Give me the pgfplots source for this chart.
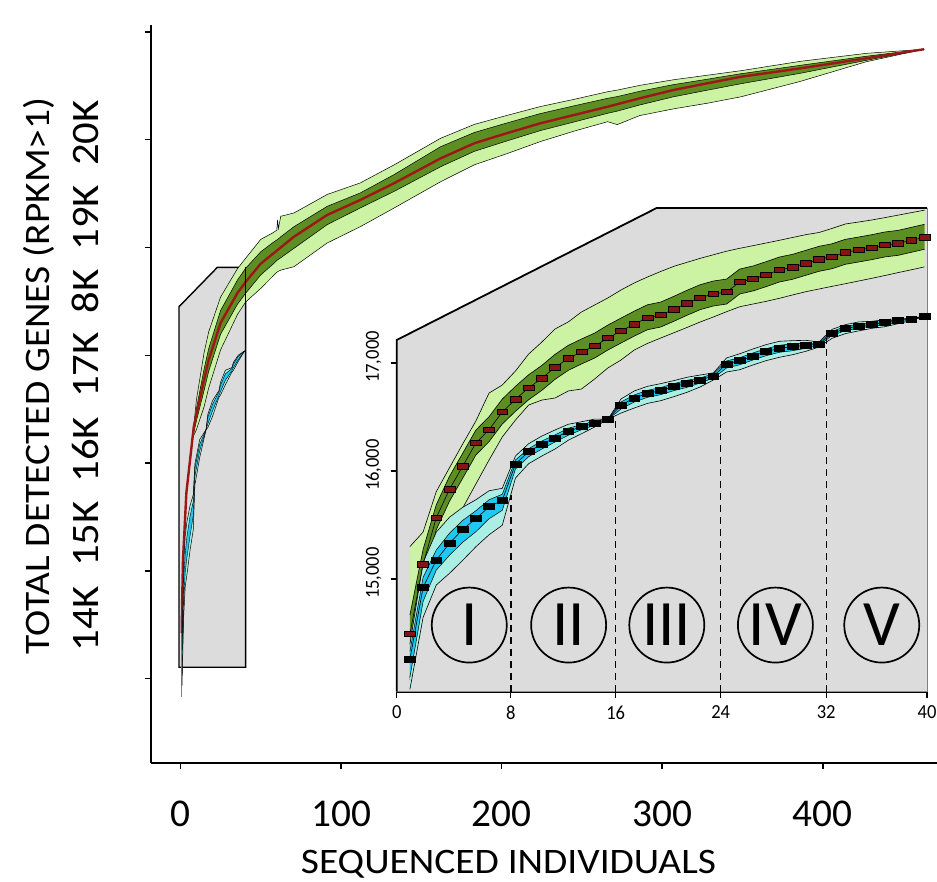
\documentclass[border=0pt]{standalone}
\usepackage{fontspec}
\setmainfont{Carlito}[FakeStretch=1.1]
\newfontfamily\tickfont{Carlito}[FakeStretch=1.0]
\newfontfamily\insetfont{Carlito}[FakeStretch=0.93]
\usepackage{pgfplots}
\pgfplotsset{compat=1.18}
\usepackage{pgfplotstable}
\usepgfplotslibrary{fillbetween}
\tikzset{fill between/on layer=main}

\definecolor{lgreen}{RGB}{204,242,163}
\definecolor{dgreen}{RGB}{92,142,36}
\definecolor{mred}{RGB}{158,22,22}
\definecolor{mkred}{RGB}{135,20,20}
\definecolor{dblue}{RGB}{30,200,240}
\definecolor{lcyan}{RGB}{170,238,228}
\definecolor{boxgray}{RGB}{220,220,220}

% ---------- main chart ----------
\pgfplotstableread{
x y
0.8 14424
1.1 14730
1.6 15101
3.7 15723
8.3 16335
14.7 16771
17.6 16957
25 17300
35.5 17578
40.6 17680
50 17850
70.7 18100
91.4 18302
112 18441
133 18596
162 18827
183 18967
203 19059
224 19152
245 19229
266 19306
286 19384
307 19461
328 19523
349 19584
386 19662
427 19755
463 19839
}\mainred

\pgfplotstableread{
x lhi llo dhi dlo
7.5 16229 16229 16229 16229
10 16590 16312 16507 16395
14.7 17021 16521 16871 16671
17.6 17217 16697 17062 16852
25 17540 17050 17415 17195
35.5 17803 17378 17698 17473
40.6 17900 17494 17807 17575
50 18075 17620 17960 17745
58 18140 17740 18050 17850
60 18160 17770 18070 17880
60.5 18255 17775 18075 17885
61 18175 17780 18080 17890
62.5 18290 17790 18100 17905
70.7 18320 17822 18193 17992
91.4 18492 18042 18382 18212
112 18599 18193 18506 18367
133 18766 18366 18676 18520
162 19013 18610 18935 18749
183 19142 18767 19067 18892
203 19224 18869 19154 18987
224 19307 18982 19242 19084
245 19374 19079 19314 19164
266 19445 19167 19384 19245
272 19460 19140 19400 19265
286 19504 19224 19449 19322
307 19556 19286 19511 19398
328 19598 19338 19561 19459
349 19640 19398 19612 19519
386 19727 19541 19690 19616
427 19801 19723 19774 19736
463 19839 19839 19839 19839
}\maingreen

\pgfplotstableread{
x med ohi olo ihi ilo
1 14201 14333 13937 14271 14042
2 14834 15054 14570 14923 14711
3 15075 15321 14855 15163 14988
4 15222 15451 14958 15310 15117
6 15438 15605 15192 15508 15324
8 15600 15706 15381 15644 15512
9 15919 15990 15796 15954 15876
12 16148 16219 16051 16175 16113
16 16312 16312 16312 16312 16312
17 16396 16448 16327 16422 16361
20 16519 16580 16433 16545 16485
24 16646 16672 16611 16663 16628
25 16699 16750 16632 16724 16665
28 16803 16862 16727 16828 16769
32 16867 16885 16842 16876 16855
33 16902 16935 16861 16919 16885
36 16976 17001 16943 16988 16959
40 17041 17041 17041 17041 17041
}\mainblue

% ---------- inset ----------
\pgfplotstableread{
x med lhi llo dhi dlo
1 14491 15300 14065 14667 14083
2 15136 15435 14685 15275 14997
3 15568 15810 15194 15688 15457
4 15831 16030 15491 15951 15720
5 16044 16250 15657 16164 15933
6 16259 16463 15880 16379 16148
7 16383 16722 16102 16503 16272
8 16546 16796 16315 16666 16435
9 16664 16926 16472 16784 16553
10 16771 17083 16611 16891 16660
11 16858 17194 16657 16978 16747
12 16960 17315 16676 17080 16849
13 17043 17380 16741 17163 16932
14 17102 17472 16759 17222 16991
15 17157 17537 16852 17277 17046
16 17231 17602 16954 17351 17120
17 17296 17676 17028 17416 17185
18 17360 17741 17120 17480 17249
19 17419 17796 17181 17539 17308
20 17444 17847 17231 17564 17333
21 17497 17895 17280 17617 17386
22 17553 17932 17329 17673 17442
23 17605 17969 17380 17725 17494
24 17639 18002 17426 17759 17528
25 17657 18035 17475 17777 17546
26 17750 18062 17521 17870 17639
27 17778 18086 17546 17898 17667
28 17818 18111 17571 17938 17707
29 17861 18136 17599 17981 17750
30 17886 18162 17630 18006 17775
31 17923 18188 17660 18043 17812
32 17960 18208 17685 18080 17849
33 17984 18246 17710 18104 17873
34 18025 18287 17734 18145 17914
35 18046 18305 17759 18166 17935
36 18068 18324 17784 18188 17957
37 18093 18346 17810 18213 17982
38 18108 18369 17837 18228 17997
39 18136 18392 17863 18256 18025
40 18164 18415 17890 18284 18053
}\insetgreen

\pgfplotstableread{
x med ohi olo ihi ilo
1 14256 14395 13978 14330 14089
2 14923 15154 14645 15016 14793
3 15176 15435 14945 15269 15083
4 15331 15572 15053 15424 15220
5 15460 15664 15173 15543 15340
6 15558 15734 15299 15632 15438
7 15669 15817 15410 15734 15558
8 15729 15840 15498 15785 15636
9 16065 16139 15935 16102 16019
10 16179 16253 16068 16207 16133
11 16250 16324 16139 16278 16204
12 16306 16380 16204 16334 16269
13 16368 16433 16285 16396 16331
14 16410 16456 16345 16429 16382
15 16444 16481 16407 16463 16425
16 16478 16478 16478 16478 16478
17 16611 16667 16537 16639 16574
18 16676 16741 16583 16704 16639
19 16719 16784 16626 16747 16682
20 16744 16809 16651 16772 16707
21 16781 16837 16688 16809 16744
22 16812 16868 16729 16840 16775
23 16843 16889 16778 16862 16815
24 16880 16908 16843 16899 16861
25 16991 17047 16917 17019 16954
26 17021 17086 16938 17049 16984
27 17065 17130 16982 17093 17028
28 17105 17170 17022 17133 17068
29 17136 17201 17053 17164 17099
30 17151 17207 17077 17179 17114
31 17164 17210 17108 17183 17136
32 17176 17195 17148 17185 17162
33 17275 17312 17229 17294 17256
34 17318 17355 17272 17337 17299
35 17343 17380 17297 17362 17324
36 17358 17386 17321 17372 17339
37 17373 17401 17336 17387 17354
38 17392 17411 17364 17401 17378
39 17407 17416 17393 17412 17398
40 17432 17432 17432 17432 17432
}\insetblue

\begin{document}
\begin{tikzpicture}

\begin{axis}[
  at={(150.7bp,-763bp)}, anchor=south west,
  scale only axis, width=786.3bp, height=738bp,
  xmin=-18.5, xmax=471.1, ymin=13218, ymax=20064,
  axis lines*=left,
  axis line style={line width=2bp},
  scaled x ticks=false, scaled y ticks=false,
  xtick={0,100,200,300,400}, xticklabels={0,100,200,300,400},
  ytick={14000,15000,16000,17000,18000,19000,20000},
  yticklabels={,,,,,,},
  tick align=outside, major tick length=6bp,
  tick style={black, line width=1.5bp},
  xticklabel style={font=\tickfont\fontsize{39.5}{40}\selectfont, anchor=north, inner sep=0pt},
  xticklabel shift=32bp,
  xlabel={SEQUENCED INDIVIDUALS},
  ylabel={TOTAL DETECTED GENES (RPKM>1)},
  every axis x label/.style={at={(axis description cs:0.455,-0.1495)}, anchor=base, font=\fontsize{36}{40}\selectfont},
  every axis y label/.style={at={(axis description cs:-0.1281,0.5244)}, rotate=90, anchor=base, font=\fontsize{36}{40}\selectfont},
]
 \filldraw[fill=boxgray, draw=black, line width=1.4bp]
   (axis cs:-0.87,14106) -- (axis cs:-0.87,17451) -- (axis cs:23.0,17816)
   -- (axis cs:40.6,17816) -- (axis cs:40.6,14106) -- cycle;
 % green band
 \addplot[draw=none, name path=gA] table[x=x,y=lhi]{\maingreen};
 \addplot[draw=none, name path=gB] table[x=x,y=llo]{\maingreen};
 \addplot[lgreen] fill between[of=gA and gB];
 \addplot[draw=none, name path=gC] table[x=x,y=dhi]{\maingreen};
 \addplot[draw=none, name path=gD] table[x=x,y=dlo]{\maingreen};
 \addplot[dgreen] fill between[of=gC and gD];
 \addplot[black, line width=0.5bp] table[x=x,y=lhi]{\maingreen};
 \addplot[black, line width=0.5bp] table[x=x,y=llo]{\maingreen};
 \addplot[black, line width=0.5bp] table[x=x,y=dhi]{\maingreen};
 \addplot[black, line width=0.5bp] table[x=x,y=dlo]{\maingreen};
 \addplot[gray, line width=0.8bp] coordinates {(0.8,13833) (0.8,14424)};
 \addplot[mred, line width=2.4bp] table[x=x,y=y]{\mainred};
 % blue band
 \addplot[draw=none, name path=bA] table[x=x,y=ohi]{\mainblue};
 \addplot[draw=none, name path=bB] table[x=x,y=olo]{\mainblue};
 \addplot[lcyan] fill between[of=bA and bB];
 \addplot[draw=none, name path=bC] table[x=x,y=ihi]{\mainblue};
 \addplot[draw=none, name path=bD] table[x=x,y=ilo]{\mainblue};
 \addplot[dblue] fill between[of=bC and bD];
 \addplot[black, line width=0.5bp] table[x=x,y=ohi]{\mainblue};
 \addplot[black, line width=0.5bp] table[x=x,y=olo]{\mainblue};
 \addplot[black, line width=0.4bp] table[x=x,y=ihi]{\mainblue};
 \addplot[black, line width=0.4bp] table[x=x,y=ilo]{\mainblue};
 \draw[line width=1.6bp] (axis cs:40.6,14106) -- (axis cs:40.6,17816);
\end{axis}

\begin{axis}[
  at={(396.7bp,-691.7bp)}, anchor=south west,
  scale only axis, width=530.3bp, height=483.7bp,
  xmin=0, xmax=40.19, ymin=13957, ymax=18435,
  clip=false,
  axis x line*=bottom, axis y line*=left,
  x axis line style={line width=2bp},
  y axis line style={draw=none},
  scaled x ticks=false, scaled y ticks=false,
  xtick={0,8.65,16.6,24.55,32.55,40.19}, xticklabels={0,8,16,24,32,40},
  ytick={15000,16000,17000}, yticklabels={{15,000},{16,000},{17,000}},
  tick align=outside, major tick length=6bp,
  tick style={black, line width=1.2bp},
  xticklabel style={font=\insetfont\fontsize{20}{20}\selectfont, anchor=north, inner sep=0pt},
  xticklabel shift=8bp,
  yticklabel style={font=\insetfont\fontsize{20}{20}\selectfont, yshift=6bp, rotate=90, anchor=south, inner sep=0pt},
  yticklabel shift=9bp,
]
 \fill[boxgray] (axis cs:0,13957) -- (axis cs:0,17213) -- (axis cs:19.7,18435)
   -- (axis cs:40.19,18435) -- (axis cs:40.19,13957) -- cycle;
 % green
 \addplot[draw=none, name path=iA] table[x=x,y=lhi]{\insetgreen};
 \addplot[draw=none, name path=iB] table[x=x,y=llo]{\insetgreen};
 \addplot[lgreen] fill between[of=iA and iB];
 \addplot[draw=none, name path=iC] table[x=x,y=dhi]{\insetgreen};
 \addplot[draw=none, name path=iD] table[x=x,y=dlo]{\insetgreen};
 \addplot[dgreen] fill between[of=iC and iD];
 \addplot[black, line width=0.6bp] table[x=x,y=lhi]{\insetgreen};
 \addplot[black, line width=0.6bp] table[x=x,y=llo]{\insetgreen};
 \addplot[black, line width=0.6bp] table[x=x,y=dhi]{\insetgreen};
 \addplot[black, line width=0.6bp] table[x=x,y=dlo]{\insetgreen};
 % blue
 \addplot[draw=none, name path=jA] table[x=x,y=ohi]{\insetblue};
 \addplot[draw=none, name path=jB] table[x=x,y=olo]{\insetblue};
 \addplot[lcyan] fill between[of=jA and jB];
 \addplot[draw=none, name path=jC] table[x=x,y=ihi]{\insetblue};
 \addplot[draw=none, name path=jD] table[x=x,y=ilo]{\insetblue};
 \addplot[dblue] fill between[of=jC and jD];
 \addplot[black, line width=0.6bp] table[x=x,y=ohi]{\insetblue};
 \addplot[black, line width=0.6bp] table[x=x,y=olo]{\insetblue};
 \addplot[black, line width=0.5bp] table[x=x,y=ihi]{\insetblue};
 \addplot[black, line width=0.5bp] table[x=x,y=ilo]{\insetblue};
 % dashed separators
 \addplot[black, line width=1.4bp, dash pattern=on 7bp off 5bp] coordinates {(8.65,13957) (8.65,15778)};
 \addplot[black, line width=1.4bp, dash pattern=on 7bp off 5bp] coordinates {(16.6,13957) (16.6,16491)};
 \addplot[black, line width=1.4bp, dash pattern=on 7bp off 5bp] coordinates {(24.55,13957) (24.55,16843)};
 \addplot[black, line width=1.4bp, dash pattern=on 7bp off 5bp] coordinates {(32.55,13957) (32.55,17231)};
 % medians with markers
 \addplot[black, line width=0.6bp, mark=square*, mark size=2.7bp,
   mark options={xscale=2, fill=mkred, draw=none}] table[x=x,y=med]{\insetgreen};
 \addplot[black, line width=0.6bp, mark=square*, mark size=3bp,
   mark options={xscale=1.8, fill=black, draw=none}] table[x=x,y=med]{\insetblue};
 % group circles
 \node[circle, draw, line width=1.7bp, minimum size=75bp, inner sep=0pt, font=\tickfont\fontsize{65}{65}\selectfont] at (axis cs:5.5,14574) {I};
 \node[circle, draw, line width=1.7bp, minimum size=75bp, inner sep=0pt, font=\tickfont\fontsize{65}{65}\selectfont] at (axis cs:13.03,14574) {II};
 \node[circle, draw, line width=1.7bp, minimum size=75bp, inner sep=0pt, font=\tickfont\fontsize{65}{65}\selectfont] at (axis cs:20.47,14574) {III};
 \node[circle, draw, line width=1.7bp, minimum size=75bp, inner sep=0pt, font=\tickfont\fontsize{65}{65}\selectfont] at (axis cs:28.7,14574) {IV};
 \node[circle, draw, line width=1.7bp, minimum size=75bp, inner sep=0pt, font=\tickfont\fontsize{65}{65}\selectfont] at (axis cs:36.76,14574) {V};
 % outline of the inset panel
 \draw[line width=1.8bp] (axis cs:0,13957) -- (axis cs:0,17213) -- (axis cs:19.7,18435) -- (axis cs:40.19,18435);
 \draw[line width=0.6bp, gray] (axis cs:40.19,18435) -- (axis cs:40.19,13957);
\end{axis}

\node[rotate=90, anchor=base, font=\fontsize{39}{40}\selectfont] at (98bp,-376bp)
  {14K\hspace{19bp}15K\hspace{19bp}16K\hspace{19bp}17K\hspace{19bp}8K\hspace{19bp}19K\hspace{19bp}20K};

\pgfresetboundingbox
\path[use as bounding box] (0bp,0bp) rectangle (937bp,-882bp);
\end{tikzpicture}
\end{document}
